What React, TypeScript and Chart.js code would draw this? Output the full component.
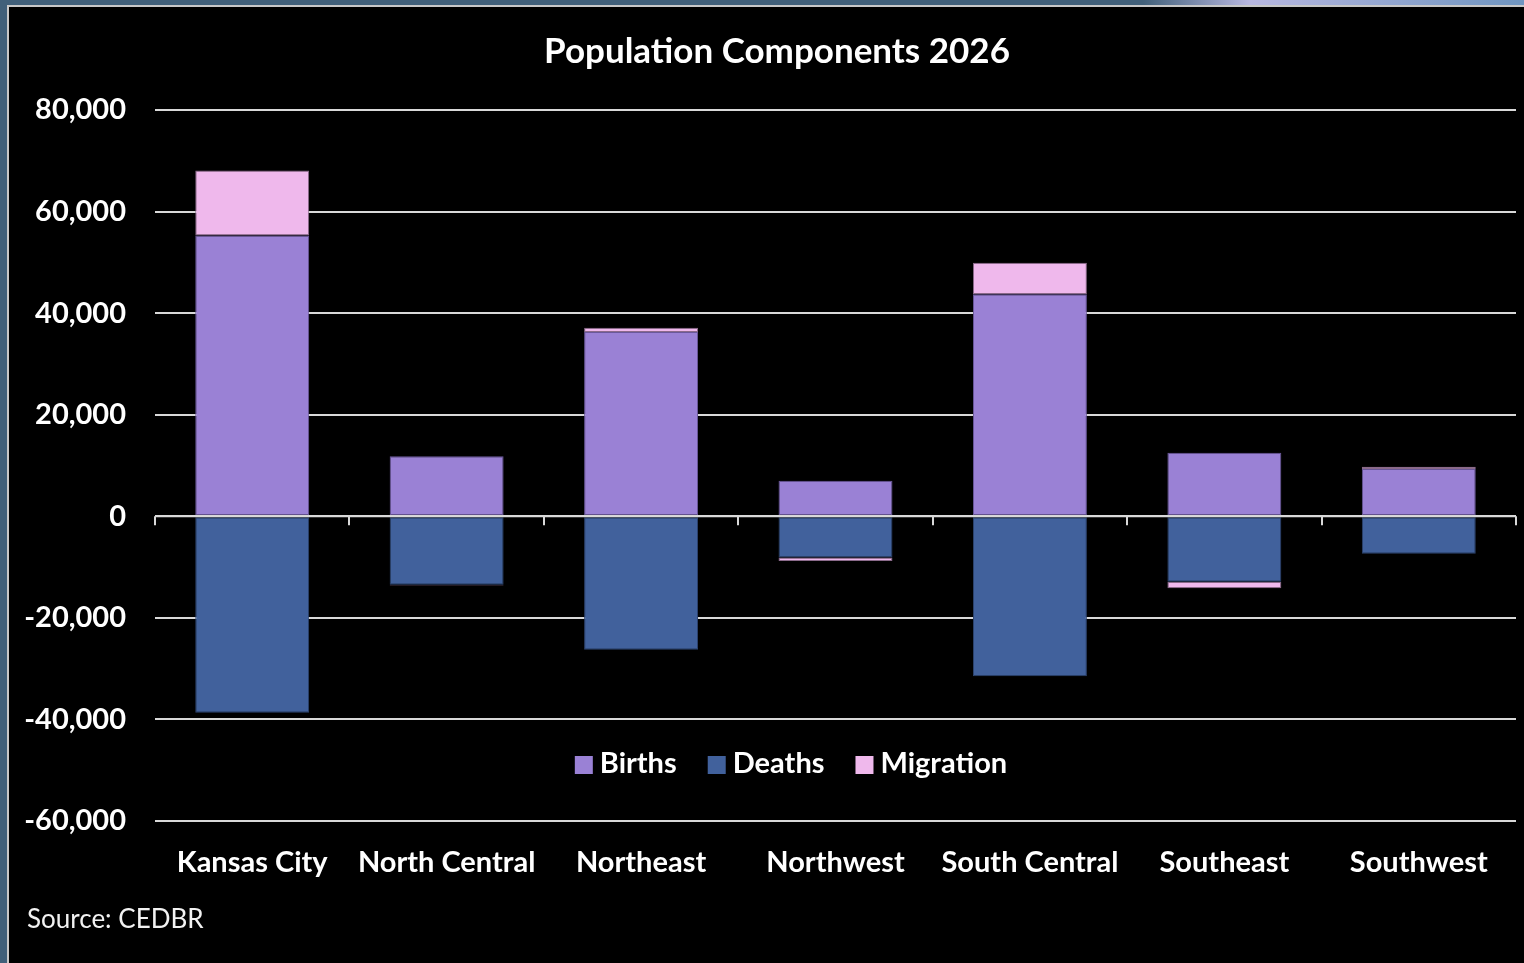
import React, { useEffect, useRef } from "react";
import { Chart, registerables } from "chart.js";

Chart.register(...registerables);

const categories = [
  "Kansas City",
  "North Central",
  "Northeast",
  "Northwest",
  "South Central",
  "Southeast",
  "Southwest",
];
const births = [55300, 11800, 36300, 7000, 43700, 12500, 9300];
const deaths = [-38700, -13500, -26300, -8100, -31500, -12900, -7400];
const migration = [12800, -150, 800, -700, 6200, -1250, 450];
const seriesNames = ["Births", "Deaths", "Migration"];
const seriesColors = ["#9a81d5", "#41619c", "#efb8ec"];
const seriesBorders = ["#6a589a", "#2d446f", "#8a6a8a"];
const yMin = -60000;
const yMax = 80000;
const yStep = 20000;
const titleText = "Population Components 2026";
const sourceText = "Source: CEDBR";

const FONT = "Lato, 'Open Sans', sans-serif";
const GRID = "#d9d9d9";

const overlayPlugin = {
  id: "overlay",
  afterDatasetsDraw(chart: any) {
    const { ctx, chartArea, scales } = chart;
    const y0 = scales.y.getPixelForValue(0);
    ctx.save();
    ctx.strokeStyle = GRID;
    ctx.lineWidth = 2;
    ctx.beginPath();
    ctx.moveTo(chartArea.left, y0);
    ctx.lineTo(chartArea.right, y0);
    const n = categories.length;
    const band = (scales.x.right - scales.x.left) / n;
    for (let i = 0; i <= n; i++) {
      const x = Math.round(scales.x.left + i * band);
      ctx.moveTo(x, y0);
      ctx.lineTo(x, y0 + 9);
    }
    ctx.stroke();
    ctx.restore();
  },
  afterDraw(chart: any) {
    const { ctx } = chart;
    ctx.save();
    ctx.fillStyle = "#ffffff";
    // title
    ctx.font = `bold 35px ${FONT}`;
    ctx.textAlign = "center";
    ctx.textBaseline = "middle";
    ctx.fillText(titleText, 768, 45);
    // legend
    ctx.font = `bold 29px ${FONT}`;
    ctx.textAlign = "left";
    const sq = 18;
    const gapText = 7;
    const gapItem = 31;
    const widths = seriesNames.map((s) => ctx.measureText(s).width);
    const total =
      widths.reduce((a, b) => a + b, 0) +
      seriesNames.length * (sq + gapText) +
      (seriesNames.length - 1) * gapItem;
    let x = 782 - total / 2;
    const ly = 757;
    seriesNames.forEach((name, i) => {
      ctx.fillStyle = seriesColors[i];
      ctx.fillRect(x, ly - sq / 2 + 1, sq, sq);
      x += sq + gapText;
      ctx.fillStyle = "#ffffff";
      ctx.fillText(name, x, ly);
      x += widths[i] + gapItem;
    });
    // source
    ctx.font = `26px ${FONT}`;
    ctx.fillStyle = "#f2f2f2";
    ctx.fillText(sourceText, 18, 913);
    ctx.restore();
  },
};

export default function App() {
  const ref = useRef<HTMLCanvasElement | null>(null);
  useEffect(() => {
    if (!ref.current) return;
    const data = [births, deaths, migration];
    const chart = new Chart(ref.current, {
      type: "bar",
      data: {
        labels: categories,
        datasets: seriesNames.map((name, i) => ({
          label: name,
          data: data[i],
          backgroundColor: seriesColors[i],
          borderColor: seriesBorders[i],
          borderWidth: 1,
          borderSkipped: false,
          categoryPercentage: 1,
          barPercentage: 0.586,
        })),
      },
      options: {
        animation: false,
        responsive: false,
        devicePixelRatio: 1,
        layout: { padding: { top: 103, right: 8, left: 0, bottom: 0 } },
        plugins: {
          legend: { display: false },
          title: { display: false },
          tooltip: { enabled: false },
        },
        scales: {
          x: {
            stacked: true,
            grid: { display: false, drawTicks: false },
            border: { display: false },
            ticks: {
              color: "#ffffff",
              font: { family: FONT, size: 29, weight: "bold" },
              padding: 24,
              maxRotation: 0,
              autoSkip: false,
            },
            afterFit: (s: any) => {
              s.height = 142;
            },
          },
          y: {
            stacked: true,
            min: yMin,
            max: yMax,
            grid: { color: GRID, lineWidth: 2, drawTicks: false },
            border: { display: false },
            ticks: {
              stepSize: yStep,
              color: "#ffffff",
              font: { family: FONT, size: 29, weight: "bold" },
              padding: 29,
              callback: (v: any) => Number(v).toLocaleString("en-US"),
            },
            afterFit: (s: any) => {
              s.width = 146;
            },
          },
        },
      },
      plugins: [overlayPlugin],
    });
    return () => chart.destroy();
  }, []);

  return (
    <div
      style={{
        position: "fixed",
        inset: 0,
        background: "linear-gradient(90deg, #41607a 0%, #41607a 75%, #b8b8e0 82%, #6f95c0 100%)",
        overflow: "hidden",
      }}
    >
      <div
        style={{
          position: "absolute",
          left: 7,
          top: 5,
          right: 0,
          bottom: 0,
          borderLeft: "2px solid #c8c8c8",
          borderTop: "2px solid #c8c8c8",
          background: "#000000",
        }}
      >
        <canvas ref={ref} width={1515} height={956} style={{ display: "block" }} />
      </div>
    </div>
  );
}
